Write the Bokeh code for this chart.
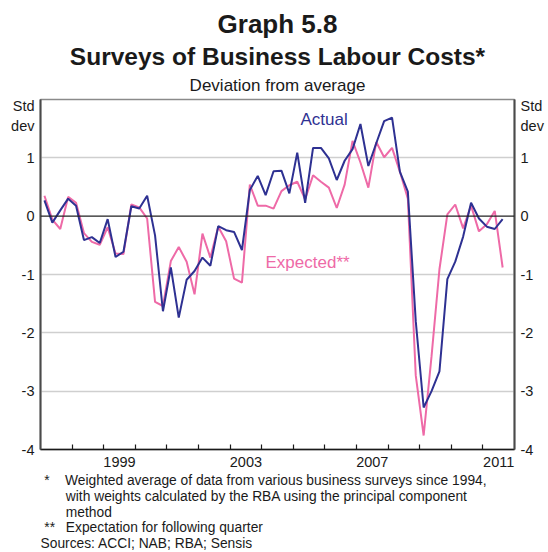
from bokeh.plotting import figure
from bokeh.models import FixedTicker, LinearAxis, Span, Label, Title, ColumnDataSource
from bokeh.embed import file_html
from bokeh.resources import INLINE

# ---------------- data (quarterly, from 1997 Q1) ----------------
start_year = 1997
actual = [0.27, -0.11, 0.10, 0.30, 0.18, -0.41, -0.36, -0.46, -0.05, -0.70,
          -0.61, 0.17, 0.13, 0.35, -0.33, -1.63, -0.88, -1.74, -1.09, -0.94,
          -0.71, -0.85, -0.17, -0.24, -0.27, -0.58, 0.45, 0.69, 0.36, 0.77,
          0.78, 0.39, 1.09, 0.23, 1.17, 1.17, 0.99, 0.62, 0.95, 1.15,
          1.58, 0.86, 1.25, 1.63, 1.69, 0.76, 0.42, -1.80, -3.28, -3.00,
          -2.66, -1.08, -0.78, -0.35, 0.23, -0.04, -0.18, -0.22, -0.05]
expected = [0.35, -0.06, -0.22, 0.33, 0.23, -0.29, -0.44, -0.49, -0.19, -0.64,
            -0.65, 0.20, 0.15, -0.04, -1.47, -1.54, -0.77, -0.53, -0.78, -1.34,
            -0.30, -0.71, -0.18, -0.43, -1.07, -1.14, 0.54, 0.18, 0.18, 0.13,
            0.43, 0.53, 0.59, 0.29, 0.70, 0.59, 0.49, 0.14, 0.54, 1.29,
            0.92, 0.49, 1.27, 1.01, 1.17, 0.76, 0.30, -2.73, -3.76, -2.40,
            -0.91, 0.03, 0.20, -0.21, 0.18, -0.26, -0.14, 0.09, -0.88]
year_labels = ["1999", "2003", "2007", "2011"]
y_ticks = [-4, -3, -2, -1, 0, 1]
y_tick_labels = ["-4", "-3", "-2", "-1", "0", "1"]
unit_lines = ["Std", "dev"]

title = "Graph 5.8"
subtitle = "Surveys of Business Labour Costs*"
units = "Deviation from average"
notes = [("*", "Weighted average of data from various business surveys since 1994,"),
         ("", "with weights calculated by the RBA using the principal component"),
         ("", "method"),
         ("**", "Expectation for following quarter")]
sources = "Sources: ACCI; NAB; RBA; Sensis"

# ---------------- styling ----------------
NAVY = "#2e3192"
PINK = "#ee6aa7"
FONT = "Liberation Sans"

X0, X1 = 1997, 2012
Y0, Y1 = -4, 2
W, H = 548, 552
BL, BR, BT, BB = 40, 34, 99, 103
FW = W - BL - BR
FH = H - BT - BB

def dx(px):  # picture px -> data x
    return X0 + (px - BL) / FW * (X1 - X0)

def dy(py):  # picture px -> data y
    return Y1 - (py - BT) / FH * (Y1 - Y0)

xs = [start_year + (i + 0.5) / 4 for i in range(len(actual))]
src = ColumnDataSource(dict(x=xs, actual=actual, expected=expected))

p = figure(width=W, height=H, x_range=(X0, X1), y_range=(Y0, Y1),
           output_backend="svg", toolbar_location=None,
           min_border_left=BL, min_border_right=BR, min_border_top=BT,
           min_border_bottom=BB, background_fill_color="white",
           border_fill_color="white")

p.outline_line_color = "#8a8a8a"
p.outline_line_width = 1.5

# grid
p.xgrid.visible = False
p.ygrid.ticker = FixedTicker(ticks=[-3, -2, -1, 1])
p.ygrid.grid_line_color = "#cfcfcf"
p.ygrid.grid_line_width = 1.5

# y axes ("Std" / "dev" are placed as extra tick labels above the 1 tick)
unit_pos = [dy(105), dy(125)]

def style_y(ax):
    ax.ticker = FixedTicker(ticks=y_ticks + unit_pos)
    ov = {t: l for t, l in zip(y_ticks, y_tick_labels)}
    ov.update({t: l for t, l in zip(unit_pos, unit_lines)})
    ax.major_label_overrides = ov
    ax.major_tick_in = 0
    ax.major_tick_out = 0
    ax.minor_tick_in = 0
    ax.minor_tick_out = 0
    ax.axis_line_color = "#4a4a4a"
    ax.axis_line_width = 2
    ax.major_label_text_font = FONT
    ax.major_label_text_font_size = "14.5px"
    ax.major_label_text_color = "#1a1a1a"
    ax.major_label_standoff = 6

style_y(p.yaxis[0])
ry = LinearAxis()
style_y(ry)
p.add_layout(ry, "right")

# x axis
xa = p.xaxis[0]
mids = [int(y) + 0.5 for y in year_labels]
xa.ticker = FixedTicker(ticks=mids, minor_ticks=list(range(1998, 2012)))
xa.major_label_overrides = {m: l for m, l in zip(mids, year_labels)}
xa.major_tick_in = 0
xa.major_tick_out = 0
xa.minor_tick_in = 5
xa.minor_tick_out = 0
xa.minor_tick_line_color = "#1a1a1a"
xa.minor_tick_line_width = 1.2
xa.axis_line_color = "#1a1a1a"
xa.axis_line_width = 1.5
xa.major_label_text_font = FONT
xa.major_label_text_font_size = "14.5px"
xa.major_label_text_color = "#1a1a1a"
xa.major_label_standoff = 7

# zero line
p.add_layout(Span(location=0, dimension="width", line_color="#222222", line_width=1.2))

# series
p.line("x", "expected", source=src, line_color=PINK, line_width=2)
p.line("x", "actual", source=src, line_color=NAVY, line_width=2)

# series labels (inside the frame)
p.add_layout(Label(x=dx(300), y=dy(119), text="Actual", text_baseline="middle",
                   text_font=FONT, text_font_size="17px", text_color=NAVY))
p.add_layout(Label(x=dx(265), y=dy(262), text="Expected**", text_baseline="middle",
                   text_font=FONT, text_font_size="17px", text_color=PINK))

# titles (first added is closest to the frame)
p.add_layout(Title(text=units, align="center", text_font=FONT, text_font_size="17px",
                   text_font_style="normal", text_color="#1a1a1a", standoff=9), "above")
p.add_layout(Title(text=subtitle, align="center", text_font=FONT, text_font_size="24.5px",
                   text_font_style="bold", text_color="#1a1a1a", standoff=0), "above")
p.add_layout(Title(text=title, align="center", text_font=FONT, text_font_size="26px",
                   text_font_style="bold", text_color="#1a1a1a", standoff=3), "above")

# notes below
NB = "\u00a0"
EN = "\u2002"
lines = []
for mark, txt in notes:
    if mark == "*":
        lines.append(NB + "*" + NB * 4 + txt)
    elif mark == "**":
        lines.append(NB + "**" + EN + NB + txt)
    else:
        lines.append(EN * 2 + NB * 3 + txt)
lines.append(sources)
p.add_layout(Title(text="\n".join(lines), align="left", offset=0, text_font=FONT,
                   text_font_size="13.8px", text_font_style="normal",
                   text_color="#1a1a1a", text_line_height=1.05, standoff=3), "below")

open("out.html", "w").write(file_html(p, INLINE))
